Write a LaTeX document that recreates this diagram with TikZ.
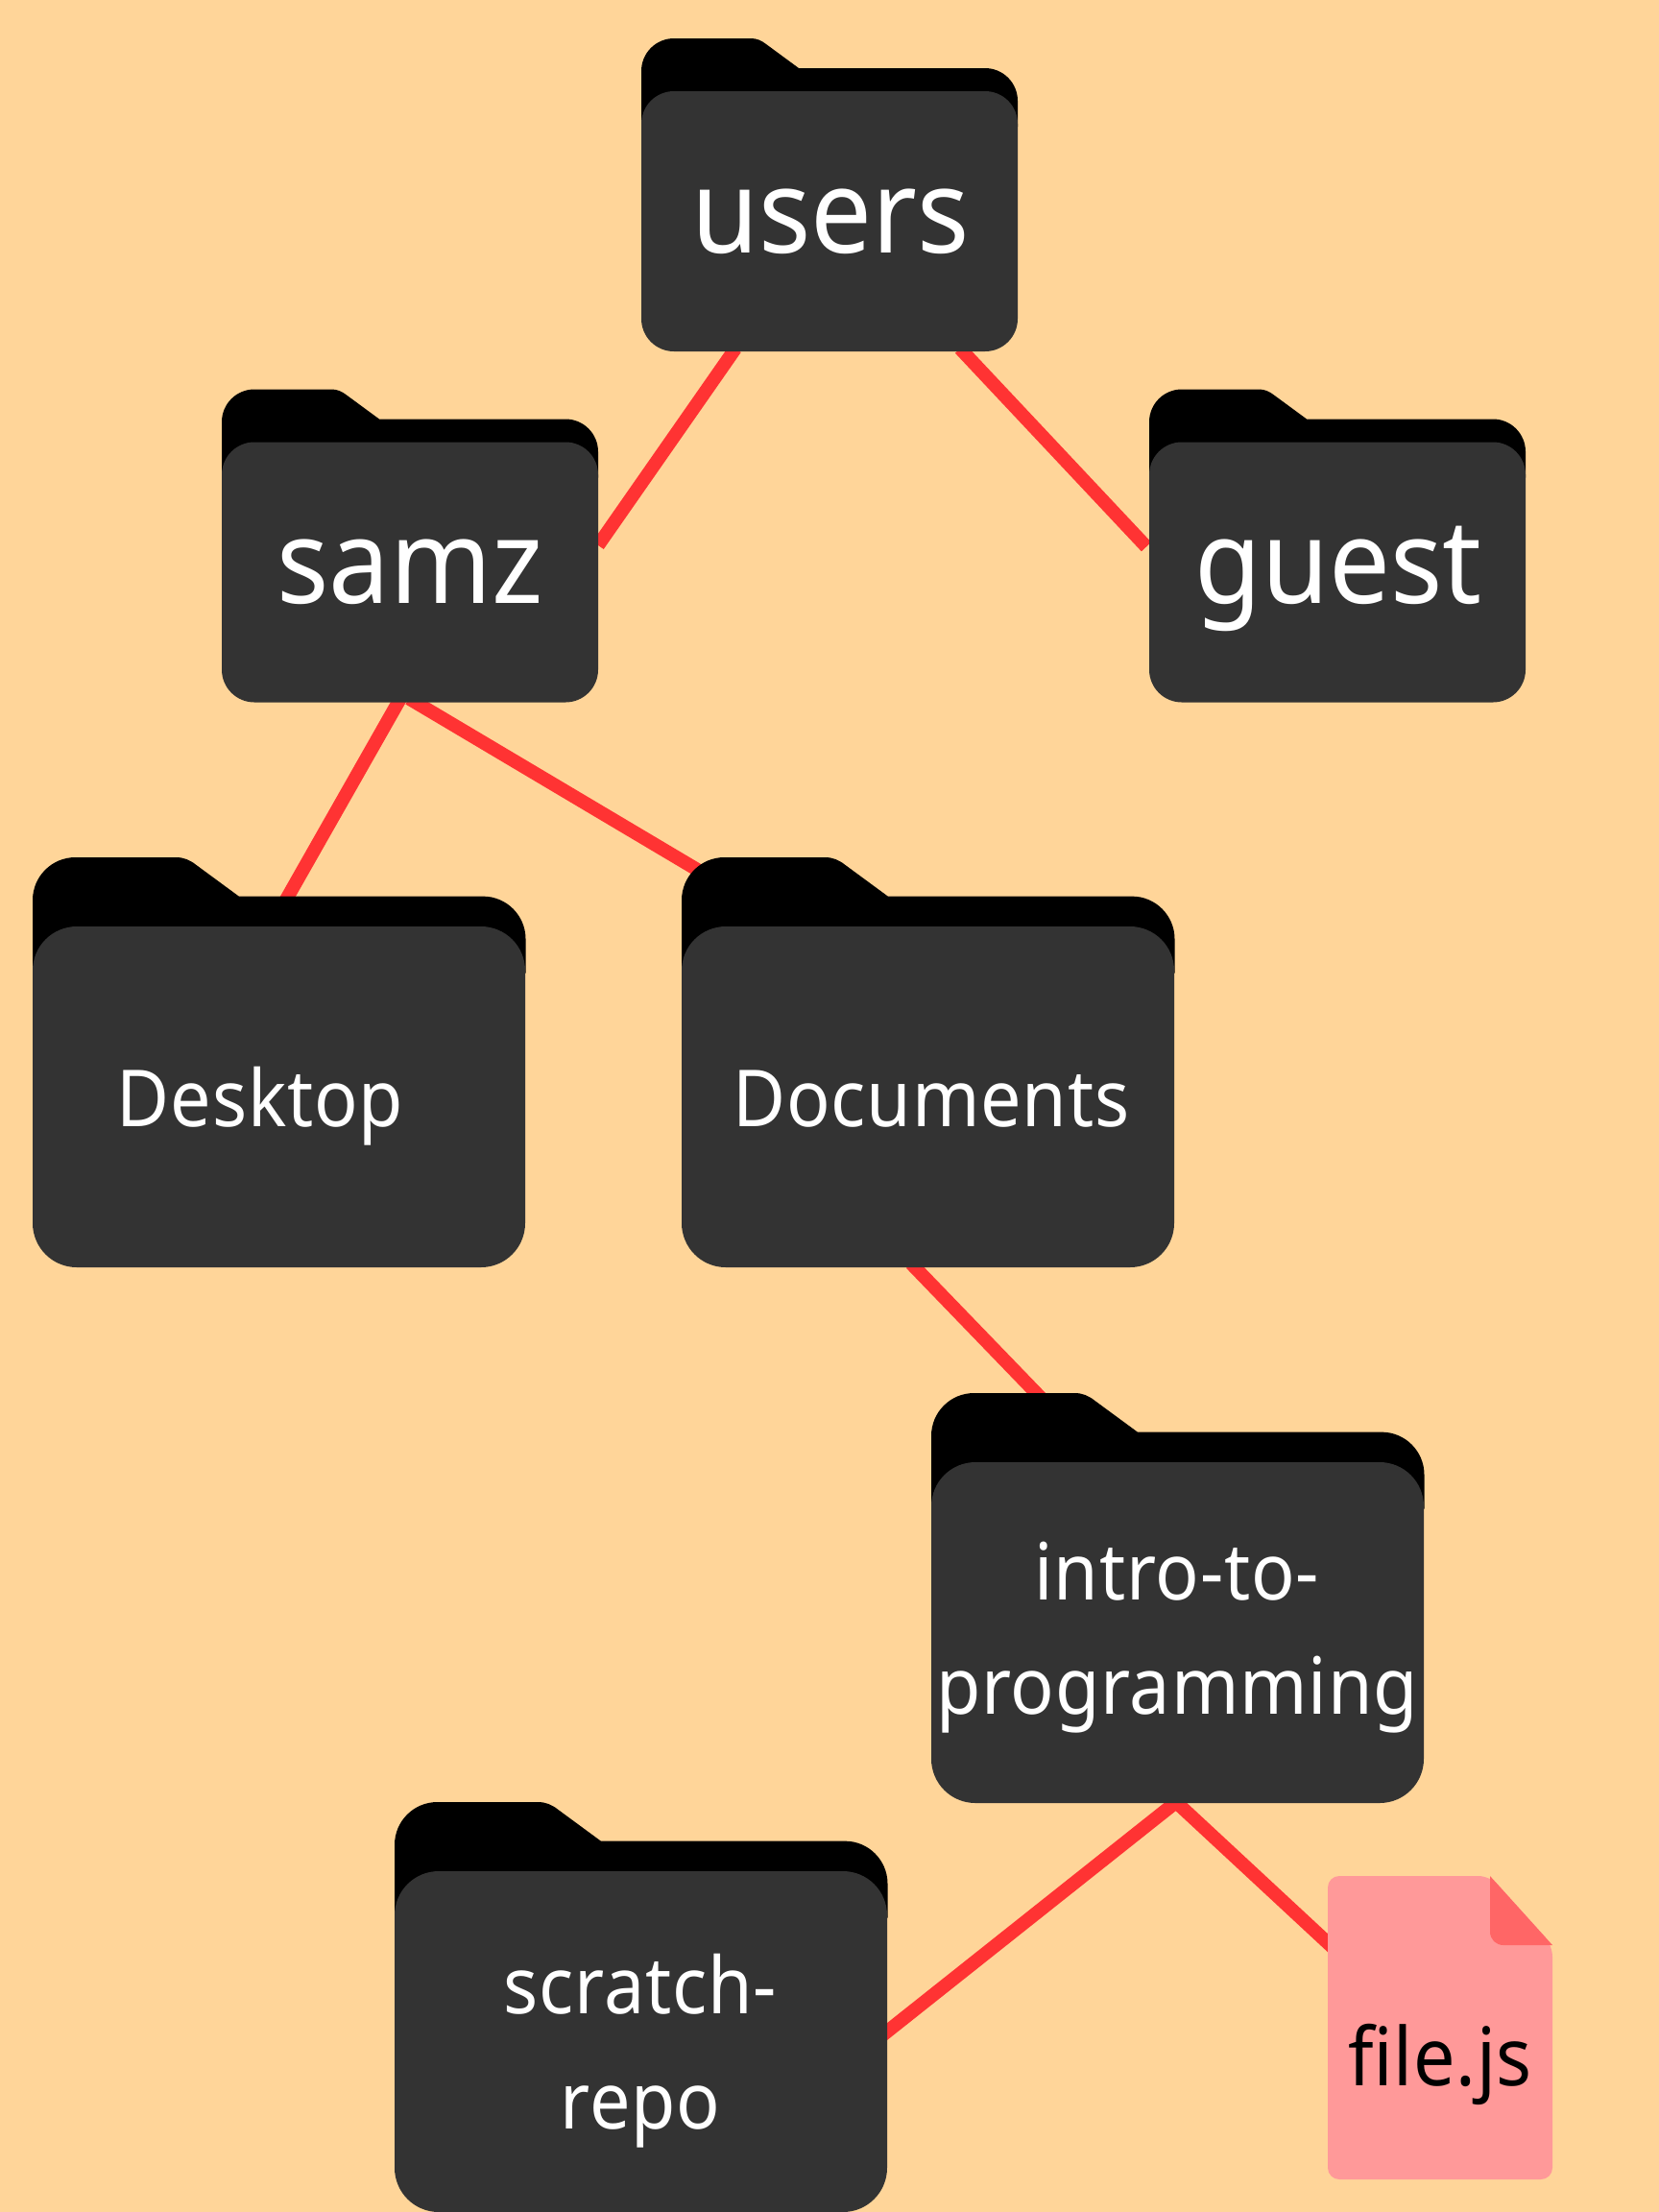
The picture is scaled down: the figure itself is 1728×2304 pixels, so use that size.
\documentclass[tikz,border=0pt]{standalone}
\usepackage{fontspec}
\newfontfamily\bigface[FakeStretch=0.93]{Noto Sans}
\newfontfamily\midface[FakeStretch=0.92,LetterSpace=1]{Noto Sans}
\setmainfont{Noto Sans}
\usetikzlibrary{calc}
\definecolor{bgc}{HTML}{FFD599}
\definecolor{darkc}{HTML}{333333}
\definecolor{linec}{HTML}{FF3333}
\definecolor{filec}{HTML}{FF9999}
\definecolor{foldc}{HTML}{FF6666}
\pgfdeclarelayer{under}
\pgfsetlayers{under,main}
\tikzset{
  connector/.style={draw=linec,line width=7pt},
  smallbody/.style={fill=darkc,anchor=north west,inner sep=0pt,outer sep=0pt,minimum width=196pt,minimum height=135.5pt,rounded corners=17pt},
  bigbody/.style={fill=darkc,anchor=north west,inner sep=0pt,outer sep=0pt,minimum width=256.5pt,minimum height=177.5pt,rounded corners=23pt},
  bigtext/.style={text=white,anchor=base,inner sep=0pt,font=\bigface\fontsize{61}{72}\selectfont},
  midtext/.style={text=white,anchor=base,inner sep=0pt,font=\midface\fontsize{41}{50}\selectfont},
  filetext/.style={text=black,anchor=base,inner sep=0pt,font=\midface\fontsize{42}{50}\selectfont},
}
% #1 left, #2 top, #3 scale: the black back of a folder
\newcommand{\foldertab}[3]{%
  \fill[black,shift={(#1,#2)},scale=#3]
    (0,92) -- (0,34) .. controls (0,15.2) and (15.2,0) .. (34,0) -- (114,0)
    .. controls (120,0) and (125,2) .. (130,6) -- (164,31) -- (358,31)
    .. controls (376.8,31) and (392,46.2) .. (392,65) -- (392,92) -- cycle;}
\begin{document}
\begin{tikzpicture}[x=0.5pt,y=-0.5pt]
\useasboundingbox (0,0) rectangle (1728,2304);
\begin{pgfonlayer}{under}
\fill[bgc] (0,0) rectangle (1728,2304);
\end{pgfonlayer}

\foldertab{668}{40}{1}
\node[smallbody] (users) at (668,95) {};
\node[bigtext] (usersT) at (865,263) {users};

\foldertab{231}{405.5}{1}
\node[smallbody] (samz) at (231,460.5) {};
\node[bigtext] (samzT) at (427,628) {samz};

\foldertab{1197}{405.5}{1}
\node[smallbody] (guest) at (1197,460.5) {};
\node[bigtext] (guestT) at (1394,628) {guest};

\foldertab{34}{893}{1.31}
\node[bigbody] (desktop) at (34,965) {};
\node[midtext] (desktopT) at (271,1173) {Desktop};

\foldertab{710}{893}{1.31}
\node[bigbody] (documents) at (710,965) {};
\node[midtext] (documentsT) at (970,1173) {Documents};

\foldertab{970}{1451}{1.31}
\node[bigbody] (intro) at (970,1523) {};
\node[midtext] (introA) at (1226,1666) {intro-to-};
\node[midtext] (introB) at (1226,1785) {programming};

\foldertab{411}{1877}{1.31}
\node[bigbody] (scratch) at (411,1949) {};
\node[midtext] (scratchA) at (667,2097) {scratch-};
\node[midtext] (scratchB) at (667,2217) {repo};

% file
\fill[filec,rounded corners=6pt] (1383,1954) -- (1552,1954) -- (1617,2026) -- (1617,2270) -- (1383,2270) -- cycle;
\fill[foldc] (1552,1954) -- (1617,2026) -- (1566,2026) .. controls (1558,2026) and (1552,2020) .. (1552,2012) -- cycle;
\node[draw=none,inner sep=0pt,outer sep=0pt,minimum width=117pt,minimum height=158pt,anchor=north west] (file) at (1383,1954) {};
\node[filetext] (fileT) at (1500,2172) {file.js};

\begin{pgfonlayer}{under}
\draw[connector] ($(users.south west)+(98,-3)$) -- ($(samz.north east)+(0,107.5)$);
\draw[connector] ($(users.south east)+(-60,-3)$) -- ($(guest.north west)+(-3,109)$);
\draw[connector] ($(samz.south west)+(186,-4)$) -- ($(desktop.north west)+(259.5,-20)$);
\draw[connector] ($(samz.south west)+(195,-4)$) -- ($(documents.north west)+(35,-48)$);
\draw[connector] ($(documents.south west)+(239,-4)$) -- ($(intro.north west)+(120,-61)$);
\draw[connector] ($(intro.south west)+(255,-1)$) -- ($(scratch.south east)+(-10,-180)$);
\draw[connector] ($(intro.south west)+(255,-1)$) -- ($(file.north west)+(10,79)$);
\end{pgfonlayer}
\end{tikzpicture}
\end{document}
